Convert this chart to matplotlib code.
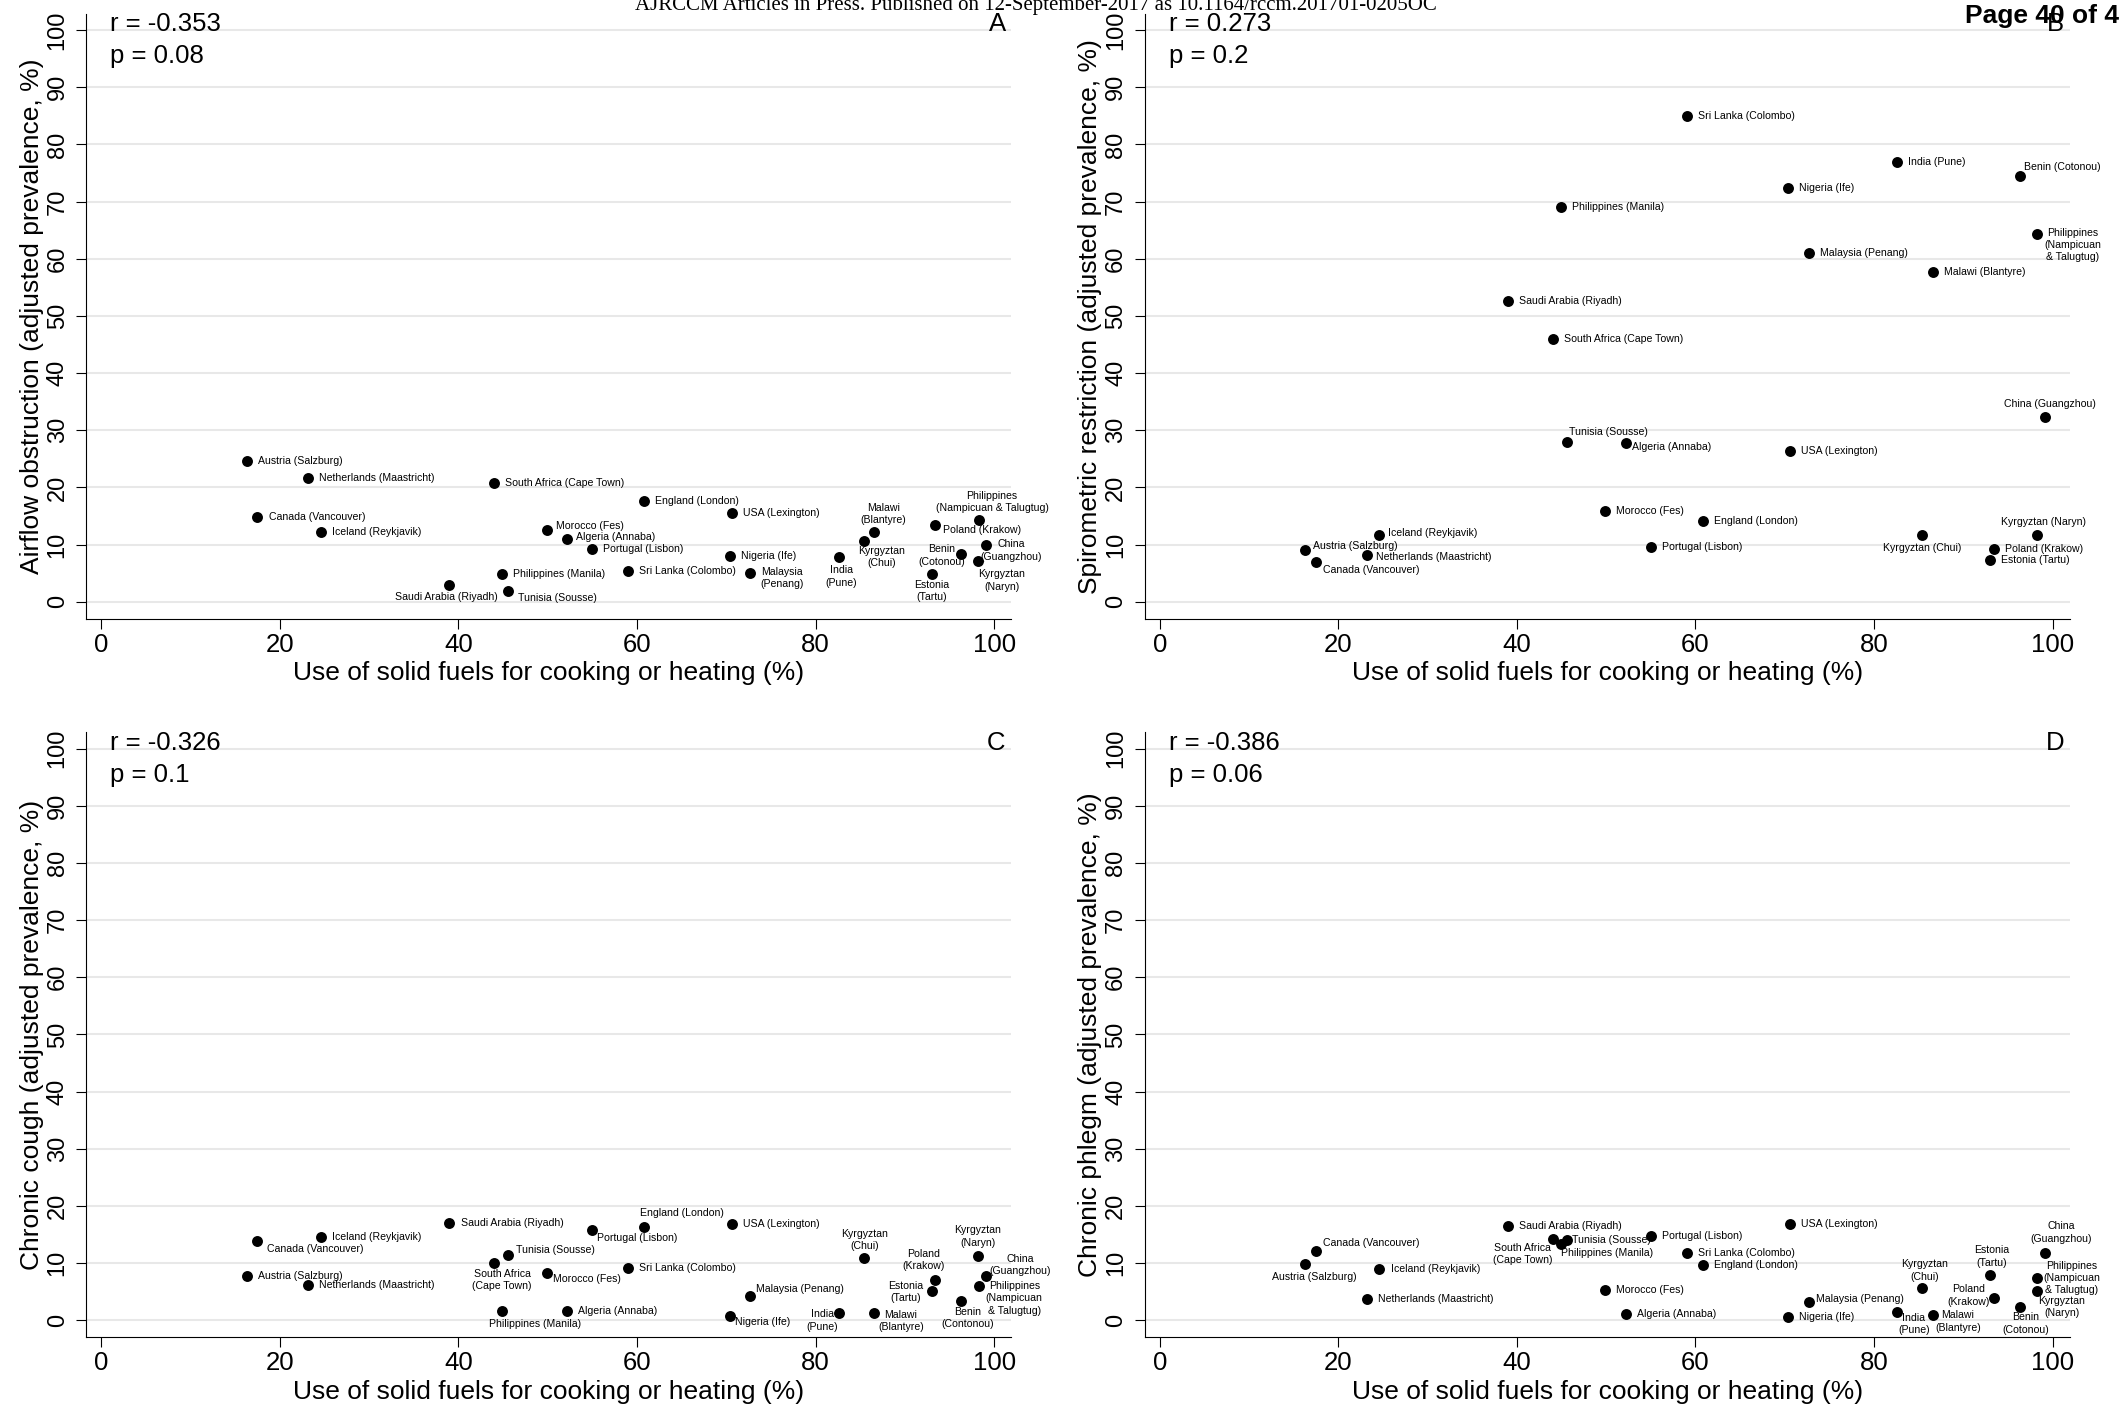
import matplotlib
matplotlib.use('Agg')
import matplotlib.pyplot as plt

plt.rcParams['font.family'] = ['Liberation Sans', 'DejaVu Sans']

# study sites (BOLD), same order in every list below
sites = ['Austria (Salzburg)', 'Netherlands (Maastricht)', 'South Africa (Cape Town)',
         'England (London)', 'USA (Lexington)', 'Canada (Vancouver)', 'Iceland (Reykjavik)',
         'Morocco (Fes)', 'Algeria (Annaba)', 'Portugal (Lisbon)', 'Nigeria (Ife)',
         'Sri Lanka (Colombo)', 'Malaysia (Penang)', 'Philippines (Manila)',
         'Saudi Arabia (Riyadh)', 'Tunisia (Sousse)', 'India (Pune)', 'Kyrgyztan (Chui)',
         'Malawi (Blantyre)', 'Poland (Krakow)', 'Estonia (Tartu)', 'Benin (Cotonou)',
         'Kyrgyztan (Naryn)', 'Philippines (Nampicuan & Talugtug)', 'China (Guangzhou)']

solid_fuel = [16.3, 23.2, 44.0, 60.8, 70.6, 17.5, 24.6, 49.9, 52.2, 55.0, 70.4, 59.0, 72.7,
              44.9, 39.0, 45.6, 82.6, 85.4, 86.6, 93.4, 93.0, 96.3, 98.2, 98.3, 99.1]

airflow = [24.7, 21.6, 20.8, 17.7, 15.6, 14.9, 12.2, 12.5, 11.0, 9.2, 8.0, 5.4, 5.1,
           4.9, 2.9, 1.9, 7.8, 10.7, 12.2, 13.5, 4.9, 8.3, 7.1, 14.3, 10.0]
restriction = [9.0, 8.1, 46.0, 14.1, 26.3, 6.9, 11.7, 15.9, 27.7, 9.6, 72.3, 85.0, 61.0,
               69.0, 52.6, 27.9, 77.0, 11.7, 57.7, 9.2, 7.3, 74.4, 11.6, 64.3, 32.4]
cough = [7.8, 6.2, 10.1, 16.4, 16.9, 13.8, 14.6, 8.2, 1.7, 15.8, 0.8, 9.2, 4.3,
         1.7, 17.0, 11.5, 1.3, 10.9, 1.2, 7.1, 5.1, 3.4, 11.3, 6.0, 7.8]
phlegm = [9.9, 3.8, 14.3, 9.6, 16.9, 12.2, 9.0, 5.3, 1.1, 14.8, 0.5, 11.7, 3.2,
          13.4, 16.5, 14.0, 1.5, 5.6, 0.9, 3.9, 8.0, 2.4, 5.2, 7.4, 11.8]

ylabels = ['Airflow obstruction (adjusted prevalence, %)',
           'Spirometric restriction (adjusted prevalence, %)',
           'Chronic cough (adjusted prevalence, %)',
           'Chronic phlegm (adjusted prevalence, %)']
r_vals = ['-0.353', '0.273', '-0.326', '-0.386']
p_vals = ['0.08', '0.2', '0.1', '0.06']
letters = ['A', 'B', 'C', 'D']

# marker label placement: (dx, dy in points, ha, va); anything not listed sits to the right
default_pos = (8, 0, 'left', 'center')

pos_A = {'Morocco (Fes)': (6.3, 3.2, 'left', 'center'),
         'Algeria (Annaba)': (6.3, 1.3, 'left', 'center'),
         'Malaysia (Penang)': (7, 4, 'left', 'top'),
         'Saudi Arabia (Riyadh)': (-2.4, -5, 'center', 'top'),
         'Tunisia (Sousse)': (7, -1.4, 'left', 'top'),
         'India (Pune)': (2, -5.8, 'center', 'top'),
         'Kyrgyztan (Chui)': (13, -3.6, 'center', 'top'),
         'Malawi (Blantyre)': (6.5, 5, 'center', 'bottom'),
         'Poland (Krakow)': (5.8, -3.6, 'left', 'center'),
         'Estonia (Tartu)': (0, -4.3, 'center', 'top'),
         'Benin (Cotonou)': (-13.7, -0.7, 'center', 'center'),
         'Kyrgyztan (Naryn)': (17, -5.8, 'center', 'top'),
         'Philippines (Nampicuan & Talugtug)': (9.4, 5, 'center', 'bottom'),
         'China (Guangzhou)': (18, -4.3, 'center', 'center')}
txt_A = {'Malaysia (Penang)': 'Malaysia\n(Penang)', 'India (Pune)': 'India\n(Pune)',
         'Kyrgyztan (Chui)': 'Kyrgyztan\n(Chui)', 'Malawi (Blantyre)': 'Malawi\n(Blantyre)',
         'Estonia (Tartu)': 'Estonia\n(Tartu)', 'Benin (Cotonou)': 'Benin\n(Cotonou)',
         'Kyrgyztan (Naryn)': 'Kyrgyztan\n(Naryn)',
         'Philippines (Nampicuan & Talugtug)': 'Philippines\n(Nampicuan & Talugtug)',
         'China (Guangzhou)': 'China\n(Guangzhou)'}

pos_B = {'Benin (Cotonou)': (3.2, 7, 'left', 'center'),
         'Philippines (Nampicuan & Talugtug)': (5, 4.7, 'left', 'top'),
         'China (Guangzhou)': (4, 9.4, 'center', 'center'),
         'Tunisia (Sousse)': (1.5, 7.2, 'left', 'center'),
         'Algeria (Annaba)': (4.6, -2.9, 'left', 'center'),
         'Iceland (Reykjavik)': (6.5, 1.4, 'left', 'center'),
         'Kyrgyztan (Chui)': (0, -9.4, 'center', 'center'),
         'Kyrgyztan (Naryn)': (5.3, 10, 'center', 'center'),
         'Austria (Salzburg)': (5.8, 3.2, 'left', 'center'),
         'Netherlands (Maastricht)': (6.3, -1, 'left', 'center'),
         'Canada (Vancouver)': (5.3, -5.2, 'left', 'center')}
txt_B = {'Philippines (Nampicuan & Talugtug)': 'Philippines\n(Nampicuan\n& Talugtug)'}

pos_C = {'England (London)': (-2.9, 9.4, 'left', 'center'),
         'Portugal (Lisbon)': (3.5, -5.8, 'left', 'center'),
         'Canada (Vancouver)': (7, -5.4, 'left', 'center'),
         'Tunisia (Sousse)': (5.8, 3.2, 'left', 'center'),
         'Kyrgyztan (Naryn)': (0, 5.8, 'center', 'bottom'),
         'Kyrgyztan (Chui)': (0.7, 5, 'center', 'bottom'),
         'South Africa (Cape Town)': (5.8, -4.7, 'center', 'top'),
         'Morocco (Fes)': (4.3, -4.3, 'left', 'center'),
         'China (Guangzhou)': (2.5, 7.6, 'left', 'center'),
         'Poland (Krakow)': (-8.6, 6.2, 'center', 'bottom'),
         'Philippines (Nampicuan & Talugtug)': (5, 3.6, 'left', 'top'),
         'Estonia (Tartu)': (-18.7, -0.7, 'center', 'center'),
         'Malaysia (Penang)': (4.3, 5, 'left', 'center'),
         'Benin (Cotonou)': (5, -4.3, 'center', 'top'),
         'Philippines (Manila)': (24, -9.4, 'center', 'center'),
         'India (Pune)': (-12, 2.5, 'center', 'top'),
         'Malawi (Blantyre)': (19, 2.7, 'center', 'top'),
         'Nigeria (Ife)': (4, -4.3, 'left', 'center')}
txt_C = {'Kyrgyztan (Naryn)': 'Kyrgyztan\n(Naryn)', 'Kyrgyztan (Chui)': 'Kyrgyztan\n(Chui)',
         'South Africa (Cape Town)': 'South Africa\n(Cape Town)',
         'China (Guangzhou)': 'China\n(Guangzhou)', 'Poland (Krakow)': 'Poland\n(Krakow)',
         'Philippines (Nampicuan & Talugtug)': 'Philippines\n(Nampicuan\n& Talugtug)',
         'Estonia (Tartu)': 'Estonia\n(Tartu)', 'Benin (Cotonou)': 'Benin\n(Contonou)',
         'India (Pune)': 'India\n(Pune)', 'Malawi (Blantyre)': 'Malawi\n(Blantyre)'}

pos_D = {'South Africa (Cape Town)': (0, -3, 'right', 'top'),
         'Philippines (Manila)': (0, -7, 'left', 'center'),
         'Tunisia (Sousse)': (4, 0, 'left', 'center'),
         'Canada (Vancouver)': (5, 5.8, 'left', 'center'),
         'China (Guangzhou)': (12, 6.5, 'center', 'bottom'),
         'Austria (Salzburg)': (6.5, -9.4, 'center', 'center'),
         'Estonia (Tartu)': (1.4, 5, 'center', 'bottom'),
         'Kyrgyztan (Chui)': (2, 4.7, 'center', 'bottom'),
         'Kyrgyztan (Naryn)': (18, -3.6, 'center', 'top'),
         'Poland (Krakow)': (-18, 1.8, 'center', 'center'),
         'Benin (Cotonou)': (4.3, -4, 'center', 'top'),
         'India (Pune)': (12, -0.7, 'center', 'top'),
         'Malawi (Blantyre)': (18, 3.6, 'center', 'top'),
         'Malaysia (Penang)': (5.3, 2, 'left', 'center'),
         'Philippines (Nampicuan & Talugtug)': (4, 0, 'left', 'center')}
txt_D = {'South Africa (Cape Town)': 'South Africa\n(Cape Town)',
         'China (Guangzhou)': 'China\n(Guangzhou)', 'Estonia (Tartu)': 'Estonia\n(Tartu)',
         'Philippines (Nampicuan & Talugtug)': 'Philippines\n(Nampicuan\n& Talugtug)',
         'Kyrgyztan (Chui)': 'Kyrgyztan\n(Chui)', 'Kyrgyztan (Naryn)': 'Kyrgyztan\n(Naryn)',
         'Poland (Krakow)': 'Poland\n(Krakow)', 'Benin (Cotonou)': 'Benin\n(Cotonou)',
         'India (Pune)': 'India\n(Pune)', 'Malawi (Blantyre)': 'Malawi\n(Blantyre)'}


def draw_panel(ax, yvals, ylab, r, p, letter, pos, names):
    ax.scatter(solid_fuel, yvals, s=62, color='black', linewidths=0, zorder=3)
    for i, s in enumerate(sites):
        dx, dy, ha, va = pos.get(s, default_pos)
        ax.annotate(names.get(s, s), (solid_fuel[i], yvals[i]), xytext=(dx, dy),
                    textcoords='offset points', ha=ha, va=va, fontsize=7.6,
                    linespacing=1.3, multialignment='center', zorder=4)
    ax.set_xlim(-1.7, 101.9)
    ax.set_ylim(-3.0, 102.9)
    ax.set_xticks(range(0, 101, 20), [str(t) for t in range(0, 101, 20)], fontsize=18.5)
    ax.set_yticks(range(0, 101, 10), [str(t) for t in range(0, 101, 10)],
                  fontsize=17, rotation=90, va='center')
    ax.grid(axis='y', color='#e8e8e8', linewidth=1.5)
    ax.set_axisbelow(True)
    ax.spines['top'].set_visible(False)
    ax.spines['right'].set_visible(False)
    ax.spines['left'].set_linewidth(0.8)
    ax.spines['bottom'].set_linewidth(0.8)
    ax.tick_params(direction='out', length=7, width=0.8, color='black')
    ax.tick_params(axis='x', pad=3)
    ax.tick_params(axis='y', pad=5.5)
    ax.set_xlabel('Use of solid fuels for cooking or heating (%)', fontsize=19, labelpad=3)
    ax.set_ylabel(ylab, fontsize=19, labelpad=2)
    ax.text(1, 99.8, 'r = ' + r, fontsize=18.5, va='baseline')
    ax.text(1, 94.2, 'p = ' + p, fontsize=18.5, va='baseline')
    ax.text(101.3, 99.8, letter, fontsize=18.5, ha='right', va='baseline')


fig = plt.figure(figsize=(21.2, 14.08), dpi=100)
w, h = 0.4363, 0.4300
axA = fig.add_axes([0.0406, 0.5604, w, h])
axB = fig.add_axes([0.5399, 0.5604, w, h])
axC = fig.add_axes([0.0406, 0.0501, w, h])
axD = fig.add_axes([0.5399, 0.0501, w, h])

draw_panel(axA, airflow, ylabels[0], r_vals[0], p_vals[0], letters[0], pos_A, txt_A)
draw_panel(axB, restriction, ylabels[1], r_vals[1], p_vals[1], letters[1], pos_B, txt_B)
draw_panel(axC, cough, ylabels[2], r_vals[2], p_vals[2], letters[2], pos_C, txt_C)
draw_panel(axD, phlegm, ylabels[3], r_vals[3], p_vals[3], letters[3], pos_D, txt_D)

# journal page header (cut off at the top edge, like the scanned page)
fig.text(0.4887, 0.9929, 'AJRCCM Articles in Press. Published on 12-September-2017 as 10.1164/rccm.201701-0205OC',
         family='Liberation Serif', fontsize=15, ha='center', va='baseline')
fig.text(0.9995, 0.9837, 'Page 40 of 4', fontsize=19, weight='bold', ha='right', va='baseline')

fig.savefig('out.png', dpi=100)
